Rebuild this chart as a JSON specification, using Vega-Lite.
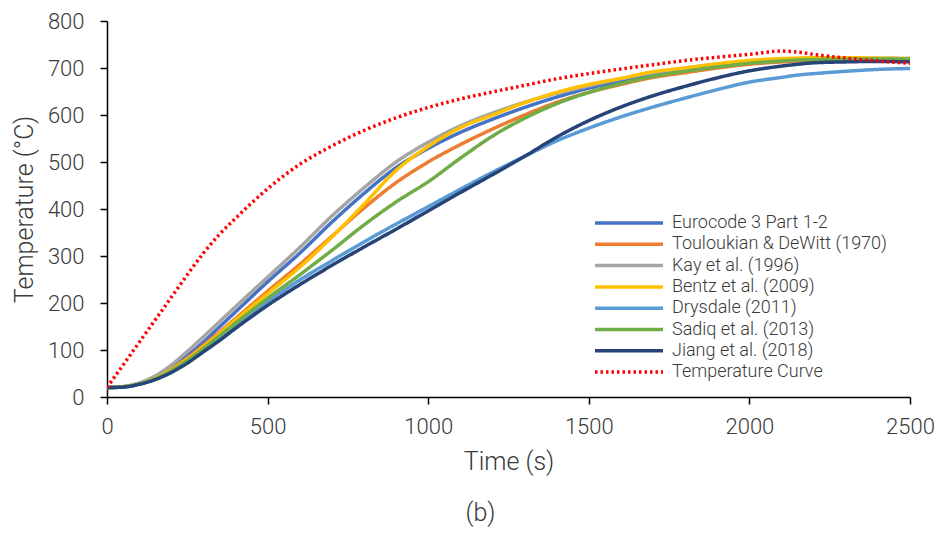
{
  "$schema": "https://vega.github.io/schema/vega-lite/v6.json",
  "width": 803,
  "height": 376,
  "autosize": {"type": "none"},
  "padding": {"left": 107, "top": 21, "right": 30, "bottom": 141},
  "background": "white",
  "config": {
    "font": "Roboto",
    "view": {"stroke": null},
    "axis": {
      "grid": false,
      "labelFlush": false,
      "labelOverlap": false,
      "domainColor": "#000000",
      "domainWidth": 1.5,
      "tickColor": "#000000",
      "tickWidth": 1.5,
      "tickSize": 7,
      "labelFont": "Roboto",
      "labelFontSize": 22,
      "labelFontWeight": 300,
      "labelColor": "#3a3a3a",
      "titleFont": "Roboto",
      "titleFontSize": 25,
      "titleFontWeight": 300,
      "titleColor": "#3a3a3a"
    },
    "legend": {
      "orient": "none",
      "legendX": 513,
      "legendY": 193,
      "padding": 0,
      "labelFont": "Roboto",
      "labelFontSize": 18,
      "labelFontWeight": 300,
      "labelColor": "#3a3a3a",
      "symbolType": "M-5,0H5",
      "symbolSize": 185,
      "symbolFillColor": "transparent",
      "labelOffset": 34,
      "rowPadding": 3.3,
      "labelLimit": 400
    }
  },
  "title": {
    "text": "(b)",
    "orient": "bottom",
    "anchor": "middle",
    "fontSize": 25,
    "font": "Roboto",
    "fontWeight": 300,
    "color": "#3a3a3a",
    "offset": 27,
    "dx": -28
  },
  "data": {
    "values": [
      {"s":"Eurocode 3 Part 1-2","t":0,"T":20},{"s":"Eurocode 3 Part 1-2","t":50,"T":22},{"s":"Eurocode 3 Part 1-2","t":100,"T":29},{"s":"Eurocode 3 Part 1-2","t":150,"T":43},{"s":"Eurocode 3 Part 1-2","t":200,"T":63},{"s":"Eurocode 3 Part 1-2","t":250,"T":88},{"s":"Eurocode 3 Part 1-2","t":300,"T":117},{"s":"Eurocode 3 Part 1-2","t":350,"T":149},{"s":"Eurocode 3 Part 1-2","t":400,"T":181},{"s":"Eurocode 3 Part 1-2","t":500,"T":245},{"s":"Eurocode 3 Part 1-2","t":600,"T":306},{"s":"Eurocode 3 Part 1-2","t":700,"T":372},{"s":"Eurocode 3 Part 1-2","t":800,"T":433},{"s":"Eurocode 3 Part 1-2","t":900,"T":488},{"s":"Eurocode 3 Part 1-2","t":1000,"T":529},{"s":"Eurocode 3 Part 1-2","t":1100,"T":563},{"s":"Eurocode 3 Part 1-2","t":1200,"T":591},{"s":"Eurocode 3 Part 1-2","t":1300,"T":616},{"s":"Eurocode 3 Part 1-2","t":1400,"T":638},{"s":"Eurocode 3 Part 1-2","t":1500,"T":657},{"s":"Eurocode 3 Part 1-2","t":1600,"T":672},{"s":"Eurocode 3 Part 1-2","t":1700,"T":686},{"s":"Eurocode 3 Part 1-2","t":1800,"T":697},{"s":"Eurocode 3 Part 1-2","t":1900,"T":705},{"s":"Eurocode 3 Part 1-2","t":2000,"T":711},{"s":"Eurocode 3 Part 1-2","t":2100,"T":715},{"s":"Eurocode 3 Part 1-2","t":2150,"T":717},{"s":"Eurocode 3 Part 1-2","t":2200,"T":718},{"s":"Eurocode 3 Part 1-2","t":2300,"T":719},{"s":"Eurocode 3 Part 1-2","t":2400,"T":719},{"s":"Eurocode 3 Part 1-2","t":2500,"T":718},
      {"s":"Touloukian & DeWitt (1970)","t":0,"T":20},{"s":"Touloukian & DeWitt (1970)","t":50,"T":22},{"s":"Touloukian & DeWitt (1970)","t":100,"T":28},{"s":"Touloukian & DeWitt (1970)","t":150,"T":41},{"s":"Touloukian & DeWitt (1970)","t":200,"T":60},{"s":"Touloukian & DeWitt (1970)","t":250,"T":83},{"s":"Touloukian & DeWitt (1970)","t":300,"T":110},{"s":"Touloukian & DeWitt (1970)","t":350,"T":138},{"s":"Touloukian & DeWitt (1970)","t":400,"T":167},{"s":"Touloukian & DeWitt (1970)","t":500,"T":225},{"s":"Touloukian & DeWitt (1970)","t":600,"T":282},{"s":"Touloukian & DeWitt (1970)","t":700,"T":342},{"s":"Touloukian & DeWitt (1970)","t":800,"T":402},{"s":"Touloukian & DeWitt (1970)","t":900,"T":456},{"s":"Touloukian & DeWitt (1970)","t":1000,"T":500},{"s":"Touloukian & DeWitt (1970)","t":1100,"T":537},{"s":"Touloukian & DeWitt (1970)","t":1200,"T":570},{"s":"Touloukian & DeWitt (1970)","t":1300,"T":600},{"s":"Touloukian & DeWitt (1970)","t":1400,"T":627},{"s":"Touloukian & DeWitt (1970)","t":1500,"T":648},{"s":"Touloukian & DeWitt (1970)","t":1600,"T":665},{"s":"Touloukian & DeWitt (1970)","t":1700,"T":680},{"s":"Touloukian & DeWitt (1970)","t":1800,"T":690},{"s":"Touloukian & DeWitt (1970)","t":1900,"T":700},{"s":"Touloukian & DeWitt (1970)","t":2000,"T":708},{"s":"Touloukian & DeWitt (1970)","t":2100,"T":713},{"s":"Touloukian & DeWitt (1970)","t":2150,"T":715},{"s":"Touloukian & DeWitt (1970)","t":2200,"T":716},{"s":"Touloukian & DeWitt (1970)","t":2300,"T":717},{"s":"Touloukian & DeWitt (1970)","t":2400,"T":717},{"s":"Touloukian & DeWitt (1970)","t":2500,"T":717},
      {"s":"Kay et al. (1996)","t":0,"T":20},{"s":"Kay et al. (1996)","t":50,"T":22},{"s":"Kay et al. (1996)","t":100,"T":30},{"s":"Kay et al. (1996)","t":150,"T":45},{"s":"Kay et al. (1996)","t":200,"T":68},{"s":"Kay et al. (1996)","t":250,"T":97},{"s":"Kay et al. (1996)","t":300,"T":128},{"s":"Kay et al. (1996)","t":350,"T":160},{"s":"Kay et al. (1996)","t":400,"T":192},{"s":"Kay et al. (1996)","t":500,"T":255},{"s":"Kay et al. (1996)","t":600,"T":318},{"s":"Kay et al. (1996)","t":700,"T":385},{"s":"Kay et al. (1996)","t":800,"T":445},{"s":"Kay et al. (1996)","t":900,"T":500},{"s":"Kay et al. (1996)","t":1000,"T":542},{"s":"Kay et al. (1996)","t":1100,"T":577},{"s":"Kay et al. (1996)","t":1200,"T":604},{"s":"Kay et al. (1996)","t":1300,"T":627},{"s":"Kay et al. (1996)","t":1400,"T":646},{"s":"Kay et al. (1996)","t":1500,"T":662},{"s":"Kay et al. (1996)","t":1600,"T":677},{"s":"Kay et al. (1996)","t":1700,"T":690},{"s":"Kay et al. (1996)","t":1800,"T":700},{"s":"Kay et al. (1996)","t":1900,"T":708},{"s":"Kay et al. (1996)","t":2000,"T":714},{"s":"Kay et al. (1996)","t":2100,"T":718},{"s":"Kay et al. (1996)","t":2150,"T":719},{"s":"Kay et al. (1996)","t":2200,"T":720},{"s":"Kay et al. (1996)","t":2300,"T":721},{"s":"Kay et al. (1996)","t":2400,"T":721},{"s":"Kay et al. (1996)","t":2500,"T":720},
      {"s":"Bentz et al. (2009)","t":0,"T":20},{"s":"Bentz et al. (2009)","t":50,"T":22},{"s":"Bentz et al. (2009)","t":100,"T":28},{"s":"Bentz et al. (2009)","t":150,"T":40},{"s":"Bentz et al. (2009)","t":200,"T":58},{"s":"Bentz et al. (2009)","t":250,"T":81},{"s":"Bentz et al. (2009)","t":300,"T":107},{"s":"Bentz et al. (2009)","t":350,"T":135},{"s":"Bentz et al. (2009)","t":400,"T":164},{"s":"Bentz et al. (2009)","t":500,"T":220},{"s":"Bentz et al. (2009)","t":600,"T":276},{"s":"Bentz et al. (2009)","t":700,"T":340},{"s":"Bentz et al. (2009)","t":800,"T":410},{"s":"Bentz et al. (2009)","t":900,"T":482},{"s":"Bentz et al. (2009)","t":1000,"T":533},{"s":"Bentz et al. (2009)","t":1100,"T":573},{"s":"Bentz et al. (2009)","t":1200,"T":600},{"s":"Bentz et al. (2009)","t":1300,"T":626},{"s":"Bentz et al. (2009)","t":1400,"T":648},{"s":"Bentz et al. (2009)","t":1500,"T":665},{"s":"Bentz et al. (2009)","t":1600,"T":678},{"s":"Bentz et al. (2009)","t":1700,"T":692},{"s":"Bentz et al. (2009)","t":1800,"T":700},{"s":"Bentz et al. (2009)","t":1900,"T":709},{"s":"Bentz et al. (2009)","t":2000,"T":716},{"s":"Bentz et al. (2009)","t":2100,"T":720},{"s":"Bentz et al. (2009)","t":2150,"T":721},{"s":"Bentz et al. (2009)","t":2200,"T":722},{"s":"Bentz et al. (2009)","t":2300,"T":722},{"s":"Bentz et al. (2009)","t":2400,"T":721},{"s":"Bentz et al. (2009)","t":2500,"T":720},
      {"s":"Drysdale (2011)","t":0,"T":20},{"s":"Drysdale (2011)","t":50,"T":21},{"s":"Drysdale (2011)","t":100,"T":27},{"s":"Drysdale (2011)","t":150,"T":38},{"s":"Drysdale (2011)","t":200,"T":54},{"s":"Drysdale (2011)","t":250,"T":75},{"s":"Drysdale (2011)","t":300,"T":100},{"s":"Drysdale (2011)","t":350,"T":126},{"s":"Drysdale (2011)","t":400,"T":152},{"s":"Drysdale (2011)","t":500,"T":203},{"s":"Drysdale (2011)","t":600,"T":249},{"s":"Drysdale (2011)","t":700,"T":290},{"s":"Drysdale (2011)","t":800,"T":330},{"s":"Drysdale (2011)","t":900,"T":368},{"s":"Drysdale (2011)","t":1000,"T":405},{"s":"Drysdale (2011)","t":1100,"T":442},{"s":"Drysdale (2011)","t":1200,"T":478},{"s":"Drysdale (2011)","t":1300,"T":512},{"s":"Drysdale (2011)","t":1400,"T":545},{"s":"Drysdale (2011)","t":1500,"T":572},{"s":"Drysdale (2011)","t":1600,"T":596},{"s":"Drysdale (2011)","t":1700,"T":617},{"s":"Drysdale (2011)","t":1800,"T":636},{"s":"Drysdale (2011)","t":1900,"T":654},{"s":"Drysdale (2011)","t":2000,"T":670},{"s":"Drysdale (2011)","t":2100,"T":680},{"s":"Drysdale (2011)","t":2150,"T":685},{"s":"Drysdale (2011)","t":2200,"T":688},{"s":"Drysdale (2011)","t":2300,"T":693},{"s":"Drysdale (2011)","t":2400,"T":697},{"s":"Drysdale (2011)","t":2500,"T":699},
      {"s":"Sadiq et al. (2013)","t":0,"T":20},{"s":"Sadiq et al. (2013)","t":50,"T":22},{"s":"Sadiq et al. (2013)","t":100,"T":28},{"s":"Sadiq et al. (2013)","t":150,"T":39},{"s":"Sadiq et al. (2013)","t":200,"T":56},{"s":"Sadiq et al. (2013)","t":250,"T":78},{"s":"Sadiq et al. (2013)","t":300,"T":103},{"s":"Sadiq et al. (2013)","t":350,"T":130},{"s":"Sadiq et al. (2013)","t":400,"T":157},{"s":"Sadiq et al. (2013)","t":500,"T":210},{"s":"Sadiq et al. (2013)","t":600,"T":260},{"s":"Sadiq et al. (2013)","t":700,"T":312},{"s":"Sadiq et al. (2013)","t":800,"T":366},{"s":"Sadiq et al. (2013)","t":900,"T":415},{"s":"Sadiq et al. (2013)","t":1000,"T":458},{"s":"Sadiq et al. (2013)","t":1100,"T":508},{"s":"Sadiq et al. (2013)","t":1200,"T":555},{"s":"Sadiq et al. (2013)","t":1300,"T":593},{"s":"Sadiq et al. (2013)","t":1400,"T":624},{"s":"Sadiq et al. (2013)","t":1500,"T":648},{"s":"Sadiq et al. (2013)","t":1600,"T":667},{"s":"Sadiq et al. (2013)","t":1700,"T":682},{"s":"Sadiq et al. (2013)","t":1800,"T":693},{"s":"Sadiq et al. (2013)","t":1900,"T":702},{"s":"Sadiq et al. (2013)","t":2000,"T":710},{"s":"Sadiq et al. (2013)","t":2100,"T":715},{"s":"Sadiq et al. (2013)","t":2150,"T":717},{"s":"Sadiq et al. (2013)","t":2200,"T":718},{"s":"Sadiq et al. (2013)","t":2300,"T":719},{"s":"Sadiq et al. (2013)","t":2400,"T":719},{"s":"Sadiq et al. (2013)","t":2500,"T":719},
      {"s":"Jiang et al. (2018)","t":0,"T":20},{"s":"Jiang et al. (2018)","t":50,"T":21},{"s":"Jiang et al. (2018)","t":100,"T":27},{"s":"Jiang et al. (2018)","t":150,"T":37},{"s":"Jiang et al. (2018)","t":200,"T":52},{"s":"Jiang et al. (2018)","t":250,"T":72},{"s":"Jiang et al. (2018)","t":300,"T":96},{"s":"Jiang et al. (2018)","t":350,"T":120},{"s":"Jiang et al. (2018)","t":400,"T":146},{"s":"Jiang et al. (2018)","t":500,"T":195},{"s":"Jiang et al. (2018)","t":600,"T":239},{"s":"Jiang et al. (2018)","t":700,"T":280},{"s":"Jiang et al. (2018)","t":800,"T":319},{"s":"Jiang et al. (2018)","t":900,"T":357},{"s":"Jiang et al. (2018)","t":1000,"T":396},{"s":"Jiang et al. (2018)","t":1100,"T":435},{"s":"Jiang et al. (2018)","t":1200,"T":473},{"s":"Jiang et al. (2018)","t":1300,"T":512},{"s":"Jiang et al. (2018)","t":1400,"T":553},{"s":"Jiang et al. (2018)","t":1500,"T":588},{"s":"Jiang et al. (2018)","t":1600,"T":617},{"s":"Jiang et al. (2018)","t":1700,"T":641},{"s":"Jiang et al. (2018)","t":1800,"T":661},{"s":"Jiang et al. (2018)","t":1900,"T":679},{"s":"Jiang et al. (2018)","t":2000,"T":694},{"s":"Jiang et al. (2018)","t":2100,"T":704},{"s":"Jiang et al. (2018)","t":2150,"T":708},{"s":"Jiang et al. (2018)","t":2200,"T":711},{"s":"Jiang et al. (2018)","t":2300,"T":713},{"s":"Jiang et al. (2018)","t":2400,"T":714},{"s":"Jiang et al. (2018)","t":2500,"T":713},
      {"s":"Temperature Curve","t":0,"T":20},{"s":"Temperature Curve","t":50,"T":68},{"s":"Temperature Curve","t":100,"T":116},{"s":"Temperature Curve","t":150,"T":164},{"s":"Temperature Curve","t":200,"T":212},{"s":"Temperature Curve","t":250,"T":260},{"s":"Temperature Curve","t":300,"T":306},{"s":"Temperature Curve","t":350,"T":346},{"s":"Temperature Curve","t":400,"T":380},{"s":"Temperature Curve","t":500,"T":443},{"s":"Temperature Curve","t":600,"T":495},{"s":"Temperature Curve","t":700,"T":534},{"s":"Temperature Curve","t":800,"T":567},{"s":"Temperature Curve","t":900,"T":594},{"s":"Temperature Curve","t":1000,"T":616},{"s":"Temperature Curve","t":1100,"T":634},{"s":"Temperature Curve","t":1200,"T":649},{"s":"Temperature Curve","t":1300,"T":663},{"s":"Temperature Curve","t":1400,"T":677},{"s":"Temperature Curve","t":1500,"T":688},{"s":"Temperature Curve","t":1600,"T":698},{"s":"Temperature Curve","t":1700,"T":707},{"s":"Temperature Curve","t":1800,"T":716},{"s":"Temperature Curve","t":1900,"T":723},{"s":"Temperature Curve","t":2000,"T":729},{"s":"Temperature Curve","t":2100,"T":736},{"s":"Temperature Curve","t":2150,"T":734},{"s":"Temperature Curve","t":2200,"T":729},{"s":"Temperature Curve","t":2300,"T":721},{"s":"Temperature Curve","t":2400,"T":715},{"s":"Temperature Curve","t":2500,"T":710}
    ]
  },
  "mark": {"type": "line", "interpolate": "monotone", "strokeCap": "butt", "clip": true},
  "encoding": {
    "x": {
      "field": "t",
      "type": "quantitative",
      "title": "Time (s)",
      "scale": {"domain": [0, 2500], "nice": false, "zero": false},
      "axis": {"values": [0, 500, 1000, 1500, 2000, 2500], "format": "d", "labelPadding": 12, "titlePadding": 12}
    },
    "y": {
      "field": "T",
      "type": "quantitative",
      "title": "Temperature (°C)",
      "scale": {"domain": [0, 800], "nice": false},
      "axis": {"values": [0, 100, 200, 300, 400, 500, 600, 700, 800], "format": "d", "labelPadding": 16, "titlePadding": 10}
    },
    "color": {
      "field": "s",
      "type": "nominal",
      "title": null,
      "sort": null,
      "scale": {
        "domain": ["Eurocode 3 Part 1-2", "Touloukian & DeWitt (1970)", "Kay et al. (1996)", "Bentz et al. (2009)", "Drysdale (2011)", "Sadiq et al. (2013)", "Jiang et al. (2018)", "Temperature Curve"],
        "range": ["#4472C4", "#ED7D31", "#A5A5A5", "#FFC000", "#5B9BD5", "#70AD47", "#264478", "#FF0000"]
      }
    },
    "strokeDash": {
      "field": "s",
      "type": "nominal",
      "title": null,
      "sort": null,
      "scale": {
        "domain": ["Eurocode 3 Part 1-2", "Touloukian & DeWitt (1970)", "Kay et al. (1996)", "Bentz et al. (2009)", "Drysdale (2011)", "Sadiq et al. (2013)", "Jiang et al. (2018)", "Temperature Curve"],
        "range": [[1, 0], [1, 0], [1, 0], [1, 0], [1, 0], [1, 0], [1, 0], [2.5, 3]]
      }
    },
    "strokeWidth": {
      "field": "s",
      "type": "nominal",
      "title": null,
      "sort": null,
      "scale": {
        "domain": ["Eurocode 3 Part 1-2", "Touloukian & DeWitt (1970)", "Kay et al. (1996)", "Bentz et al. (2009)", "Drysdale (2011)", "Sadiq et al. (2013)", "Jiang et al. (2018)", "Temperature Curve"],
        "range": [3.5, 3.5, 3.5, 3.5, 3.5, 3.5, 3.5, 2.5]
      }
    }
  }
}
